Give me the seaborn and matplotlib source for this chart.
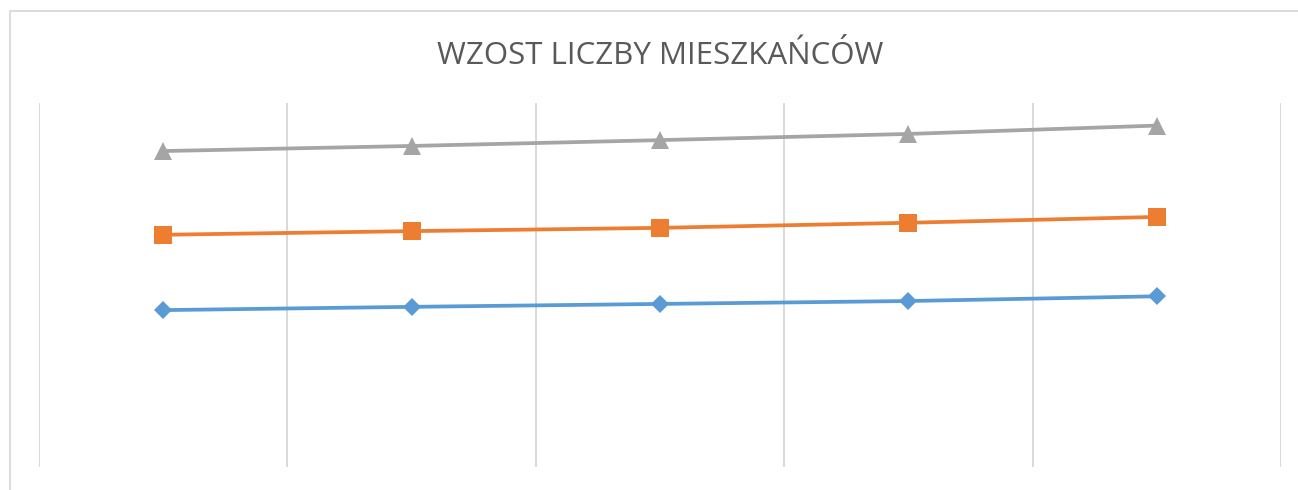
import matplotlib
matplotlib.use("Agg")
import matplotlib.pyplot as plt
import seaborn as sns
import pandas as pd
from matplotlib.patches import Rectangle

# Data (arbitrary units, no y axis shown in the reference)
categories = ["1", "2", "3", "4", "5"]
series_blue = [43.1, 44.0, 44.8, 45.6, 46.9]
series_orange = [63.8, 64.8, 65.7, 67.1, 68.7]
series_gray = [86.8, 88.2, 89.8, 91.5, 93.8]
title = "WZOST LICZBY MIESZKAŃCÓW"

sns.set_theme(style="white")
plt.rcParams["font.family"] = ["Open Sans", "DejaVu Sans"]

fig = plt.figure(figsize=(12.98, 4.90), dpi=100)
ax = fig.add_axes([39 / 1298, 23 / 490, (1281 - 39) / 1298, (467 - 103) / 490])

pos = list(range(len(categories)))
specs = [
    (series_blue, "#5B9BD5", "D", 9.0),
    (series_orange, "#ED7D31", "s", 12.5),
    (series_gray, "#A5A5A5", "^", 12.7),
]
for vals, col, mk, ms in specs:
    df = pd.DataFrame({"x": pos, "y": vals})
    sns.lineplot(data=df, x="x", y="y", ax=ax, color=col, linewidth=2.7,
                 marker=mk, markersize=ms, markeredgewidth=0, zorder=3)

ax.set_xlim(-0.5, len(categories) - 0.5)
ax.set_ylim(0, 100)
ax.set_xticks([i - 0.5 for i in range(len(categories) + 1)])
ax.set_yticks([])
ax.tick_params(axis="both", length=0, labelbottom=False, labelleft=False)
ax.grid(axis="x", color="#D9D9D9", linewidth=1.4)
ax.grid(axis="y", visible=False)
ax.set_xlabel("")
ax.set_ylabel("")
for s in ax.spines.values():
    s.set_visible(False)

fig.text(660 / 1298, 1 - 64 / 490, title, ha="center", va="baseline",
         fontsize=22.5, color="#595959", fontweight="normal")

fig.patches.append(Rectangle((10 / 1298, -0.1), 1.2, 1 - 11 / 490 + 0.1,
                             transform=fig.transFigure, fill=False,
                             edgecolor="#D9D9D9", linewidth=1.3))

fig.savefig("out.png", dpi=100)
